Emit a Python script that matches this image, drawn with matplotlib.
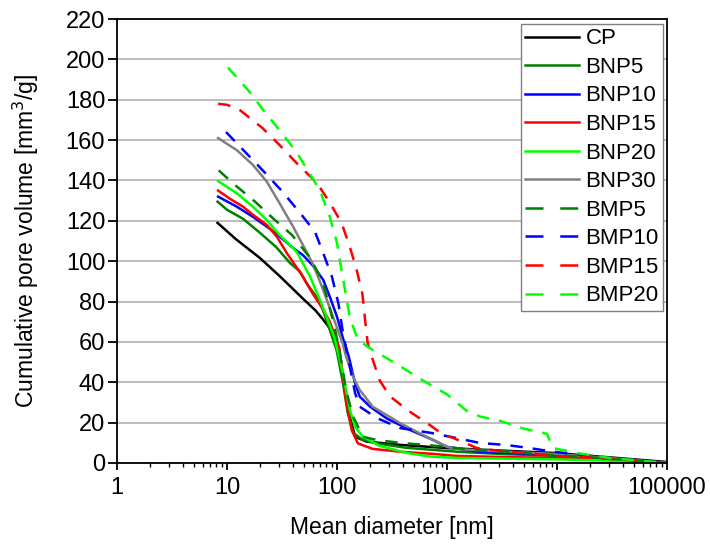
import numpy as np
import matplotlib
matplotlib.use("Agg")
import matplotlib.pyplot as plt
from matplotlib.ticker import FixedLocator, LogLocator, NullFormatter

plt.rcParams['font.family'] = ['Liberation Sans', 'DejaVu Sans']

# values (diameter in nm, volume in mm3/g)
cp_d = [8.2, 12, 20, 30, 50, 64, 75, 88, 100, 113, 131, 146, 186, 370, 1000, 3000, 10000, 30000, 100000]
cp_v = [119, 111, 101.5, 92.7, 81, 75.5, 71, 66, 60, 43, 23, 13, 10.6, 9, 7.4, 6.2, 4.9, 2.8, 0.5]

bnp5_d = [8.2, 10, 14, 20, 28, 37.5, 46, 53, 70, 86, 99, 113, 125, 140, 172, 244, 430, 1230, 3000, 10000, 30000, 100000]
bnp5_v = [129.5, 125.5, 121, 114, 107, 99, 95, 89, 80, 66, 56, 40, 25, 15, 11.4, 9.5, 7.5, 5.6, 4.5, 3.5, 2, 0]

bnp10_d = [8.3, 12.3, 17.2, 24.6, 32, 40, 49, 60, 75, 86, 100, 113, 128, 146, 161, 200, 283, 460, 750, 1000, 2000, 10000, 30000, 100000]
bnp10_v = [132, 127, 122, 116, 111, 106.5, 103, 98, 90.7, 82.4, 72.5, 62, 52.7, 39.5, 32.9, 27.9, 22.1, 16.4, 11.4, 8, 5.5, 4, 2.5, 0]

bnp15_d = [8.3, 10.6, 14, 17.2, 23, 28.5, 35, 49, 60, 75, 86, 105, 121, 136, 155, 211, 374, 750, 1230, 3000, 10000, 30000, 100000]
bnp15_v = [135, 131, 127, 123, 118, 112, 104, 92.3, 84, 76, 70, 57, 31, 16.4, 9.7, 7, 5.6, 4.5, 3.5, 3, 2.5, 1.5, 0]

bnp20_d = [8.3, 12.3, 17.2, 23, 30, 43, 57, 70, 81, 95, 113, 131, 146, 172, 244, 430, 700, 1230, 3000, 10000, 30000, 100000]
bnp20_v = [139.7, 133.6, 127, 120.4, 113, 104.7, 92.3, 80.8, 72, 62, 44.6, 26.3, 18, 13, 8.5, 5, 3.2, 2.5, 2.2, 1.8, 1.2, 0]

bnp30_d = [8.3, 12.3, 17.2, 23, 30, 40, 49, 60, 75, 92, 113, 121, 140, 161, 211, 374, 650, 1000, 1320, 3000, 9200, 30000, 100000]
bnp30_v = [161, 155, 147.7, 139.4, 128.8, 117, 108, 99, 85.7, 72.5, 59, 52.7, 42.8, 36.2, 27.9, 19.8, 13, 8, 6.8, 5.8, 4.5, 2.5, 0]

bmp5_d = [8.4, 11.8, 18, 26, 39, 57, 73, 83, 95, 105, 121, 140, 172, 230, 374, 650, 1000, 1700, 3500, 8600, 24800, 100000]
bmp5_v = [145, 137.8, 129.5, 121.4, 113, 101.6, 90.7, 80, 67.5, 56, 36, 23, 13, 11.4, 10, 8.9, 8, 6.4, 5.6, 4, 2.5, 0]

bmp10_d = [9.8, 15, 22, 32, 46, 63, 75, 90, 103, 113, 131, 146, 161, 230, 374, 700, 1140, 2000, 3500, 5650, 9200, 14000, 30000, 100000]
bmp10_v = [164, 153.5, 144, 134.4, 124, 114.6, 104, 92.3, 79, 65, 47.7, 34.7, 27.9, 22.3, 17.3, 15, 12.7, 9.9, 8.9, 7.4, 5.6, 4.5, 2.5, 0]

bmp15_d = [8.3, 10, 13, 21, 30, 43, 66, 86, 110, 131, 151, 170, 180, 190, 207, 244, 303, 460, 700, 920, 1140, 1880, 3200, 5600, 9200, 16000, 26500, 43500, 75000, 100000]
bmp15_v = [178, 177.5, 175, 166, 157.6, 148.6, 138.7, 129, 119, 107, 95.6, 84, 71, 59.5, 52.7, 41, 33, 25.4, 18.8, 14, 12.4, 7.4, 5.8, 4.9, 3.5, 3, 2.2, 1.5, 0.5, 0]

bmp20_d = [10.2, 16, 22, 30, 43, 57, 70, 86, 100, 113, 131, 155, 211, 303, 400, 600, 1000, 1500, 2000, 3000, 5000, 8100, 9200, 15000, 30000, 100000]
bmp20_v = [196, 184, 174, 165, 154, 143, 135, 122, 109, 92, 72, 61, 56, 51, 47, 41, 34, 26, 23, 21, 17, 14.5, 7.4, 5, 2.5, 0]

series = [
    ("CP", cp_d, cp_v, "black", "-"),
    ("BNP5", bnp5_d, bnp5_v, "#008000", "-"),
    ("BNP10", bnp10_d, bnp10_v, "#0000ff", "-"),
    ("BNP15", bnp15_d, bnp15_v, "#ff0000", "-"),
    ("BNP20", bnp20_d, bnp20_v, "#00ff00", "-"),
    ("BNP30", bnp30_d, bnp30_v, "#808080", "-"),
    ("BMP5", bmp5_d, bmp5_v, "#008000", "--"),
    ("BMP10", bmp10_d, bmp10_v, "#0000ff", "--"),
    ("BMP15", bmp15_d, bmp15_v, "#ff0000", "--"),
    ("BMP20", bmp20_d, bmp20_v, "#00ff00", "--"),
]

fig = plt.figure(figsize=(7.1, 5.44), dpi=100)
ax = fig.add_axes([0.1648, 0.1489, 0.7746, 0.8161])

for name, d, v, col, ls in series:
    line, = ax.plot(d, v, color=col, lw=1.8, ls=ls, label=name)
    if ls == "--":
        line.set_dashes((5, 4))

ax.set_xscale("log")
ax.set_xlim(1, 100000)
ax.set_ylim(0, 220)
ax.yaxis.set_major_locator(FixedLocator(np.arange(0, 221, 20)))
ax.xaxis.set_major_locator(FixedLocator([1, 10, 100, 1000, 10000, 100000]))
ax.set_xticklabels(["1", "10", "100", "1000", "10000", "100000"])
ax.xaxis.set_minor_locator(LogLocator(base=10, subs=np.arange(2, 10)))
ax.xaxis.set_minor_formatter(NullFormatter())

ax.grid(axis="y", color="#bdbdbd", lw=1.4)
ax.set_axisbelow(True)
ax.tick_params(axis="both", which="major", direction="out", width=1.3,
               labelsize=17, top=False, right=False)
ax.tick_params(axis="y", which="major", length=6.5, pad=2)
ax.tick_params(axis="x", which="major", length=5, pad=5)
ax.tick_params(axis="x", which="minor", direction="out", length=3, width=1.0, top=False)
for s in ax.spines.values():
    s.set_linewidth(1.3)

ax.set_xlabel("Mean diameter [nm]", fontsize=16.5, labelpad=12)
ax.set_ylabel("Cumulative pore volume [mm$^3$/g]", fontsize=16.5, labelpad=18)

leg = ax.legend(loc="upper right", bbox_to_anchor=(0.993, 0.989), borderaxespad=0,
                fontsize=16, frameon=True, fancybox=False, edgecolor="#808080",
                framealpha=1, handlelength=2.4, handletextpad=0.3,
                labelspacing=0.34, borderpad=0.2)
leg.get_frame().set_linewidth(1.0)
for h in leg.get_lines():
    if h.get_linestyle() == "--":
        h.set_dashes((7.2, 6.7))

fig.savefig("out.png", dpi=100)
